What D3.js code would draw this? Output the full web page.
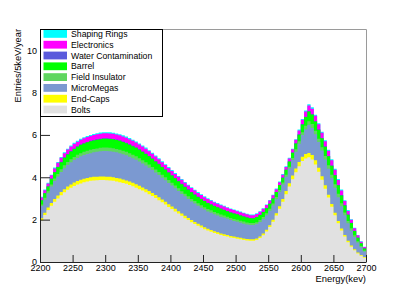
<!DOCTYPE html>
<html>
<head>
<meta charset="utf-8">
<script src="https://cdn.jsdelivr.net/npm/d3@7"></script>
<style>
body{margin:0;background:#fff;}
text{font-family:"Liberation Sans",Arial,sans-serif;fill:#000;}
</style>
</head>
<body>
<svg id="chart" width="407" height="292"></svg>
<script>
// histogram binning (keV)
var binStart = 2200, binEnd = 2700, binWidth = 5;

// entries/5keV/year per component, one value per bin
var bolts = [1.97,2.22,2.45,2.65,2.84,3.00,3.15,3.29,3.41,3.50,3.59,
  3.66,3.71,3.76,3.80,3.83,3.85,3.86,3.87,3.87,3.86,
  3.85,3.83,3.80,3.77,3.73,3.69,3.64,3.58,3.51,3.44,
  3.37,3.29,3.20,3.12,3.02,2.92,2.82,2.71,2.60,2.50,
  2.39,2.29,2.18,2.07,1.98,1.88,1.79,1.71,1.63,1.55,
  1.49,1.43,1.37,1.32,1.27,1.23,1.20,1.16,1.13,1.10,
  1.07,1.04,1.02,1.00,1.00,1.04,1.13,1.26,1.44,1.65,
  1.90,2.19,2.51,2.85,3.20,3.56,3.91,4.24,4.52,4.77,
  4.89,4.94,4.84,4.60,4.26,3.88,3.46,3.04,2.61,2.21,
  1.83,1.49,1.20,0.93,0.72,0.55,0.40,0.29,0.20];
var endCaps = [0.10,0.11,0.12,0.13,0.13,0.14,0.15,0.15,0.15,0.16,0.16,
  0.16,0.17,0.17,0.17,0.17,0.17,0.17,0.17,0.17,0.17,
  0.17,0.17,0.17,0.17,0.17,0.16,0.16,0.16,0.16,0.16,
  0.15,0.15,0.15,0.14,0.14,0.14,0.13,0.13,0.13,0.12,
  0.12,0.11,0.11,0.11,0.10,0.10,0.10,0.09,0.09,0.09,
  0.08,0.08,0.08,0.08,0.08,0.08,0.07,0.07,0.07,0.07,
  0.07,0.07,0.07,0.07,0.07,0.07,0.07,0.08,0.08,0.09,
  0.10,0.11,0.12,0.13,0.15,0.16,0.17,0.18,0.20,0.20,
  0.21,0.21,0.21,0.20,0.19,0.17,0.16,0.14,0.13,0.11,
  0.10,0.09,0.07,0.07,0.06,0.05,0.05,0.04,0.04];
var microMegas = [0.57,0.61,0.68,0.78,0.85,0.90,0.95,0.99,1.02,1.05,1.06,
  1.09,1.11,1.12,1.13,1.14,1.16,1.17,1.19,1.20,1.21,
  1.21,1.21,1.21,1.20,1.19,1.19,1.17,1.16,1.16,1.14,
  1.13,1.12,1.10,1.08,1.06,1.05,1.03,1.02,1.00,0.99,
  0.97,0.95,0.92,0.92,0.90,0.88,0.87,0.85,0.84,0.84,
  0.82,0.82,0.80,0.79,0.78,0.78,0.77,0.75,0.73,0.73,
  0.71,0.70,0.68,0.68,0.68,0.68,0.69,0.69,0.69,0.68,
  0.67,0.68,0.68,0.68,0.68,0.69,0.73,0.79,0.86,1.02,
  1.17,1.32,1.28,1.23,1.21,1.21,1.22,1.22,1.22,1.19,
  1.13,1.05,0.94,0.83,0.71,0.58,0.47,0.37,0.26];
var fieldInsulator = [0.08,0.09,0.09,0.10,0.12,0.12,0.13,0.14,0.14,0.14,0.15,
  0.15,0.15,0.15,0.15,0.16,0.16,0.16,0.16,0.16,0.16,
  0.16,0.16,0.16,0.16,0.16,0.16,0.16,0.16,0.16,0.16,
  0.15,0.15,0.15,0.15,0.15,0.14,0.14,0.14,0.14,0.13,
  0.13,0.13,0.13,0.12,0.12,0.12,0.12,0.12,0.12,0.11,
  0.11,0.11,0.11,0.11,0.11,0.10,0.10,0.10,0.10,0.10,
  0.10,0.10,0.09,0.09,0.09,0.09,0.09,0.09,0.09,0.09,
  0.09,0.09,0.09,0.09,0.09,0.09,0.10,0.11,0.12,0.14,
  0.16,0.18,0.18,0.17,0.16,0.16,0.17,0.17,0.16,0.16,
  0.16,0.14,0.13,0.11,0.10,0.08,0.06,0.05,0.04];
var barrel = [0.20,0.22,0.23,0.27,0.30,0.32,0.33,0.35,0.36,0.37,0.38,
  0.38,0.39,0.39,0.40,0.40,0.40,0.41,0.41,0.42,0.42,
  0.42,0.42,0.42,0.42,0.42,0.41,0.41,0.41,0.40,0.40,
  0.40,0.39,0.39,0.38,0.37,0.37,0.36,0.36,0.35,0.34,
  0.34,0.33,0.33,0.32,0.31,0.31,0.30,0.30,0.30,0.29,
  0.29,0.28,0.28,0.28,0.27,0.27,0.26,0.26,0.26,0.25,
  0.25,0.24,0.24,0.23,0.23,0.24,0.24,0.24,0.24,0.24,
  0.24,0.23,0.23,0.23,0.23,0.24,0.25,0.28,0.31,0.36,
  0.41,0.46,0.45,0.43,0.42,0.42,0.43,0.42,0.42,0.42,
  0.40,0.37,0.33,0.29,0.25,0.20,0.17,0.13,0.10];
var water = [0.01,0.01,0.01,0.01,0.01,0.02,0.02,0.02,0.02,0.02,0.02,
  0.02,0.02,0.02,0.02,0.02,0.02,0.02,0.02,0.02,0.02,
  0.02,0.02,0.02,0.02,0.02,0.02,0.02,0.02,0.02,0.02,
  0.02,0.02,0.02,0.02,0.02,0.02,0.02,0.02,0.02,0.02,
  0.02,0.02,0.02,0.02,0.02,0.02,0.02,0.02,0.01,0.01,
  0.01,0.01,0.01,0.01,0.01,0.01,0.01,0.01,0.01,0.01,
  0.01,0.01,0.01,0.01,0.01,0.01,0.01,0.01,0.01,0.01,
  0.01,0.01,0.01,0.01,0.01,0.01,0.01,0.01,0.02,0.02,
  0.02,0.02,0.02,0.02,0.02,0.02,0.02,0.02,0.02,0.02,
  0.02,0.02,0.02,0.01,0.01,0.01,0.01,0.01,0.01];
var electronics = [0.12,0.13,0.13,0.15,0.17,0.18,0.19,0.20,0.21,0.21,0.22,
  0.22,0.22,0.23,0.23,0.23,0.23,0.24,0.24,0.24,0.24,
  0.24,0.24,0.24,0.24,0.24,0.24,0.24,0.23,0.23,0.23,
  0.23,0.23,0.22,0.22,0.22,0.21,0.21,0.20,0.20,0.20,
  0.19,0.19,0.19,0.18,0.18,0.18,0.17,0.17,0.17,0.17,
  0.17,0.16,0.16,0.16,0.16,0.15,0.15,0.15,0.15,0.14,
  0.14,0.14,0.14,0.13,0.13,0.14,0.14,0.14,0.14,0.14,
  0.14,0.13,0.13,0.13,0.13,0.14,0.15,0.16,0.18,0.20,
  0.24,0.26,0.26,0.25,0.24,0.24,0.24,0.24,0.24,0.24,
  0.23,0.21,0.19,0.17,0.14,0.12,0.10,0.07,0.06];
var shapingRings = [0.03,0.03,0.03,0.03,0.04,0.04,0.04,0.04,0.04,0.05,0.05,
  0.05,0.05,0.05,0.05,0.05,0.05,0.05,0.05,0.05,0.05,
  0.05,0.05,0.05,0.05,0.05,0.05,0.05,0.05,0.05,0.05,
  0.05,0.05,0.05,0.05,0.05,0.05,0.05,0.04,0.04,0.04,
  0.04,0.04,0.04,0.04,0.04,0.04,0.04,0.04,0.04,0.04,
  0.04,0.04,0.04,0.03,0.03,0.03,0.03,0.03,0.03,0.03,
  0.03,0.03,0.03,0.03,0.03,0.03,0.03,0.03,0.03,0.03,
  0.03,0.03,0.03,0.03,0.03,0.03,0.03,0.03,0.04,0.04,
  0.05,0.06,0.06,0.05,0.05,0.05,0.05,0.05,0.05,0.05,
  0.05,0.05,0.04,0.04,0.03,0.03,0.02,0.02,0.01];

// stack order, bottom first
var names = ['Bolts','End-Caps','MicroMegas','Field Insulator','Barrel','Water Contamination','Electronics','Shaping Rings'];
var colors = ['#e1e1e1','#ffff00','#7b99d1','#5fd65f','#00ff00','#5a5adc','#ff00ff','#00ffff'];
var valueLists = [bolts, endCaps, microMegas, fieldInsulator, barrel, water, electronics, shapingRings];

var xTicks = d3.range(2200, 2701, 50);
var yTicks = [0, 2, 4, 6, 8, 10];

var svg = d3.select('#chart');
var W = 407, H = 292;
var frame = {left: 40, right: 366, top: 29, bottom: 262};

svg.append('rect').attr('width', W).attr('height', H).attr('fill', '#fff');

var x = d3.scaleLinear().domain([binStart, binEnd]).range([frame.left, frame.right]);
var y = d3.scaleLinear().domain([0, 11]).range([frame.bottom, frame.top]);

// one row per bin lower edge, plus a closing row at the upper edge
var rows = d3.range(valueLists[0].length).map(function(i){
    var r = {e: binStart + i*binWidth};
    names.forEach(function(n, k){ r[n] = valueLists[k][i]; });
    return r;
});
var lastRow = Object.assign({}, rows[rows.length-1]);
lastRow.e = binEnd;
rows.push(lastRow);

var layers = d3.stack().keys(names)(rows);

// each layer filled from zero up to its cumulative top, top layer first (avoids seams)
var area = d3.area()
    .curve(d3.curveStepAfter)
    .x(function(d){ return x(d.data.e); })
    .y0(y(0))
    .y1(function(d){ return y(d[1]); });

svg.append('g').attr('class', 'hists')
    .selectAll('path')
    .data(layers.slice().reverse())
    .enter().append('path')
    .attr('d', area)
    .attr('fill', function(d){ return colors[d.index]; });

// frame top/right
svg.append('path')
    .attr('d', 'M' + frame.left + ',' + (frame.top+0.5) + 'H' + (frame.right+0.5) + 'V' + frame.bottom)
    .attr('fill', 'none').attr('stroke', '#9a9a9a').attr('stroke-width', 1);

// x axis, ticks pointing inside
var gx = svg.append('g').attr('transform', 'translate(0,' + frame.bottom + ')');
gx.call(d3.axisBottom(x).tickValues(d3.range(2200, 2701, 10)).tickSize(-3.5).tickSizeOuter(0).tickFormat(''));
gx.call(d3.axisBottom(x).tickValues(xTicks).tickSize(-7).tickSizeOuter(0).tickPadding(3).tickFormat(d3.format('d')));
gx.selectAll('text').style('font-size', '9px').attr('fill', '#000');
gx.selectAll('line, path').attr('stroke', '#222');

var gy = svg.append('g').attr('transform', 'translate(' + frame.left + ',0)');
gy.call(d3.axisLeft(y).tickValues(d3.range(0, 11.01, 0.5)).tickSize(-5).tickSizeOuter(0).tickFormat(''));
gy.call(d3.axisLeft(y).tickValues(yTicks).tickSize(-10).tickSizeOuter(0).tickPadding(3).tickFormat(d3.format('d')));
gy.selectAll('text').style('font-size', '9px').attr('fill', '#000');
gy.selectAll('line, path').attr('stroke', '#222');

// axis titles
svg.append('text')
    .attr('x', frame.right).attr('y', 282)
    .attr('text-anchor', 'end')
    .style('font-size', '9.4px')
    .text('Energy(kev)');
svg.append('text')
    .attr('transform', 'translate(20.5,' + frame.top + ') rotate(-90)')
    .attr('text-anchor', 'end')
    .style('font-size', '9.3px')
    .text('Entries/5keV/year');

// legend, listed top of stack first
var legend = svg.append('g').attr('class', 'legend');
legend.append('rect')
    .attr('x', 40.5).attr('y', 29.5).attr('width', 122).attr('height', 87)
    .attr('fill', '#fff').attr('stroke', '#000').attr('stroke-width', 1);
var rowH = 10.8;
names.slice().reverse().forEach(function(n, k){
    var idx = names.length - 1 - k;
    var ry = 30 + k*rowH;
    legend.append('rect')
        .attr('x', 43.5).attr('y', ry)
        .attr('width', 23.5).attr('height', 7.8)
        .attr('fill', colors[idx]);
    legend.append('text')
        .attr('x', 71).attr('y', ry + 7)
        .style('font-size', '8.7px')
        .text(n);
});
</script>
</body>
</html>
